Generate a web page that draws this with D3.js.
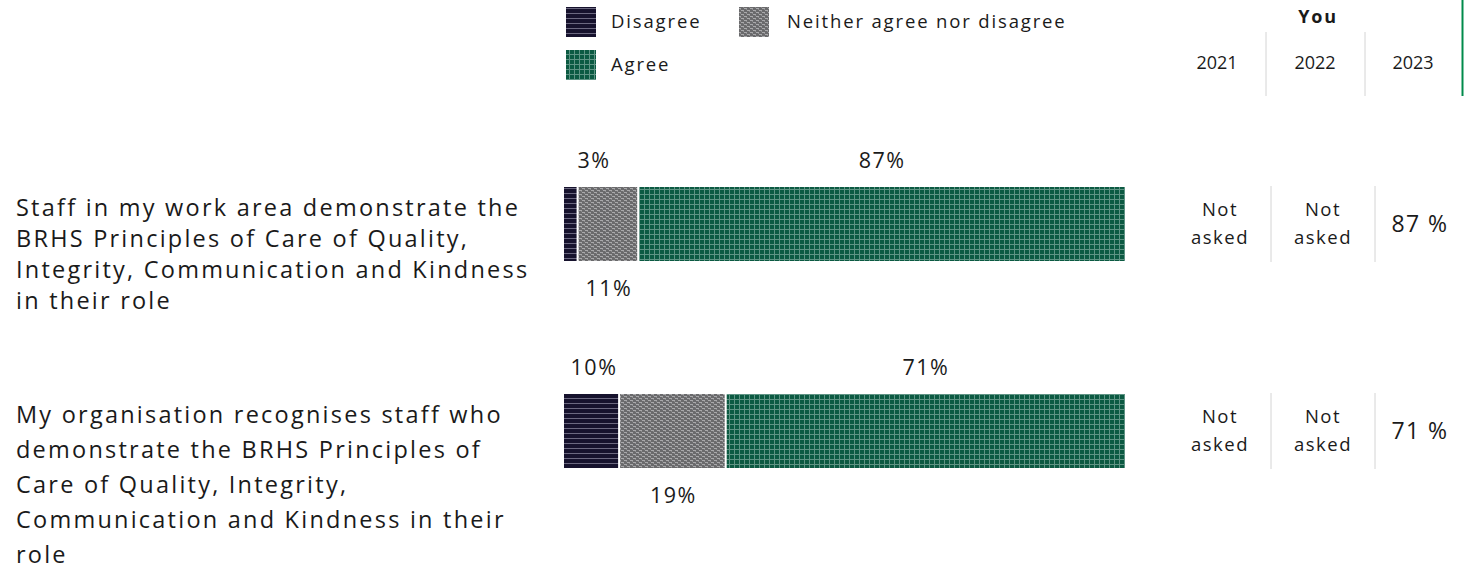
<!DOCTYPE html>
<html>
<head>
<meta charset="utf-8">
<script src="https://cdn.jsdelivr.net/npm/d3@7"></script>
<style>
  html, body { margin: 0; padding: 0; background: #fff; }
  svg { display: block; font-family: "Open Sans", sans-serif; }
</style>
</head>
<body>
<svg id="chart" width="1466" height="571"></svg>
<script>
// ---- data ----
const questions = [
  "Staff in my work area demonstrate the BRHS Principles of Care of Quality, Integrity, Communication and Kindness in their role",
  "My organisation recognises staff who demonstrate the BRHS Principles of Care of Quality, Integrity, Communication and Kindness in their role"
];
const questionLines = [
  ["Staff in my work area demonstrate the", "BRHS Principles of Care of Quality,", "Integrity, Communication and Kindness", "in their role"],
  ["My organisation recognises staff who", "demonstrate the BRHS Principles of", "Care of Quality, Integrity,", "Communication and Kindness in their", "role"]
];
const seriesNames = ["Disagree", "Neither agree nor disagree", "Agree"];
const disagree = [2.6, 10];
const neither = [10.8, 19];
const agree = [86.6, 71];
const years = ["2021", "2022", "2023"];
const history2021 = ["Not asked", "Not asked"];
const history2022 = ["Not asked", "Not asked"];
const history2023 = ["87 %", "71 %"];

// ---- setup ----
const svg = d3.select("#chart");
const defs = svg.append("defs");
const lineStep = [31, 35];  // label line spacing per row

// patterns
const pDis = defs.append("pattern").attr("id", "pDis").attr("patternUnits", "userSpaceOnUse").attr("width", 5).attr("height", 5);
pDis.append("rect").attr("width", 5).attr("height", 5).attr("fill", "#16122d");
pDis.append("rect").attr("y", 3).attr("width", 5).attr("height", 1).attr("fill", "#6b6880");

const pNei = defs.append("pattern").attr("id", "pNei").attr("patternUnits", "userSpaceOnUse").attr("width", 6).attr("height", 4);
pNei.append("rect").attr("width", 6).attr("height", 4).attr("fill", "#6a6a6c");
pNei.append("rect").attr("x", 0).attr("y", 0).attr("width", 3).attr("height", 1).attr("fill", "#a9a9ab");
pNei.append("rect").attr("x", 3).attr("y", 2).attr("width", 3).attr("height", 1).attr("fill", "#a9a9ab");
pNei.append("rect").attr("x", 2).attr("y", 1).attr("width", 1).attr("height", 1).attr("fill", "#8a8a8c");
pNei.append("rect").attr("x", 5).attr("y", 3).attr("width", 1).attr("height", 1).attr("fill", "#8a8a8c");

const pAgr = defs.append("pattern").attr("id", "pAgr").attr("patternUnits", "userSpaceOnUse").attr("width", 5).attr("height", 5);
pAgr.append("rect").attr("width", 5).attr("height", 5).attr("fill", "#0c5a42");
pAgr.append("rect").attr("x", 4).attr("width", 1).attr("height", 5).attr("fill", "#5f9484");
pAgr.append("rect").attr("y", 4).attr("width", 5).attr("height", 1).attr("fill", "#5f9484");

const fills = ["url(#pDis)", "url(#pNei)", "url(#pAgr)"];

// scales
const x = d3.scaleLinear().domain([0, 100]).range([564, 1125]);
const y = d3.scaleBand().domain(questions).range([187, 468]).paddingInner(133 / 207).paddingOuter(0);

const textColor = "#1a1a1a";

// ---- legend ----
const legendItems = [
  { name: seriesNames[0], fill: fills[0], sx: 566, sy: 7, tx: 611 },
  { name: seriesNames[1], fill: fills[1], sx: 739, sy: 7, tx: 787 },
  { name: seriesNames[2], fill: fills[2], sx: 566, sy: 50, tx: 611 }
];
const lg = svg.append("g");
lg.selectAll("rect").data(legendItems).join("rect")
  .attr("x", d => d.sx).attr("y", d => d.sy).attr("width", 30).attr("height", 30)
  .attr("fill", d => d.fill);
lg.selectAll("text").data(legendItems).join("text")
  .attr("x", d => d.tx).attr("y", d => d.sy + 15).attr("dy", "0.35em")
  .attr("font-size", 18.5).attr("letter-spacing", "0.1em").attr("fill", textColor).text(d => d.name);

// ---- header table ----
const colX = d3.scalePoint().domain(years).range([1217, 1413]);
svg.append("text").attr("x", colX("2022") + 3).attr("y", 17).attr("dy", "0.35em")
  .attr("text-anchor", "middle").attr("font-size", 18).attr("letter-spacing", "0.1em")
  .attr("font-weight", "bold").attr("fill", textColor).text("You");
svg.selectAll(".yr").data(years).join("text").attr("class", "yr")
  .attr("x", d => colX(d)).attr("y", 63).attr("dy", "0.35em")
  .attr("text-anchor", "middle").attr("font-size", 18).attr("fill", textColor).text(d => d);
svg.selectAll(".hdiv").data([1266, 1365]).join("line").attr("class", "hdiv")
  .attr("x1", d => d).attr("x2", d => d).attr("y1", 32).attr("y2", 96)
  .attr("stroke", "#d4d4d4").attr("stroke-width", 1);
svg.append("line").attr("x1", 1462.5).attr("x2", 1462.5).attr("y1", 0).attr("y2", 96)
  .attr("stroke", "#008a4b").attr("stroke-width", 2);

// ---- bars ----
const rows = questions.map((q, i) => {
  const vals = [disagree[i], neither[i], agree[i]];
  let acc = 0;
  const segs = vals.map((v, k) => {
    const s = { q, k, v, x0: acc, x1: acc + v };
    acc += v;
    return s;
  });
  return { q, i, segs };
});

const rowG = svg.selectAll(".row").data(rows).join("g").attr("class", "row");

rowG.selectAll("rect.seg").data(d => d.segs).join("rect").attr("class", "seg")
  .attr("x", d => x(d.x0))
  .attr("y", d => y(d.q))
  .attr("width", d => Math.max(0, x(d.x1) - x(d.x0) - (d.k < 2 ? 2 : 0)))
  .attr("height", y.bandwidth())
  .attr("fill", d => fills[d.k]);

// value labels: disagree & agree above, neither below
rowG.selectAll("text.val").data(d => d.segs).join("text").attr("class", "val")
  .attr("x", d => {
    const c = (x(d.x0) + x(d.x1)) / 2;
    return d.k === 0 ? Math.max(c, x(0) + 30) : c;
  })
  .attr("y", d => d.k === 1 ? y(d.q) + y.bandwidth() + 27 : y(d.q) - 27)
  .attr("dy", "0.35em")
  .attr("text-anchor", "middle")
  .attr("font-size", 21.5).attr("letter-spacing", "0.07em").attr("fill", textColor)
  .text(d => Math.round(d.v) + "%");

// question labels
rowG.append("text")
  .attr("font-size", 23.5).attr("letter-spacing", "0.095em").attr("fill", textColor)
  .selectAll("tspan").data(d => questionLines[d.i].map((l, j) => ({ l, j, i: d.i, q: d.q }))).join("tspan")
  .attr("x", 16)
  .attr("y", d => y(d.q) + 21 + d.j * lineStep[d.i])
  .attr("dy", "0.35em")
  .text(d => d.l);

// history table cells
const cellX = [1220, 1323, 1420];
rowG.selectAll("line.rdiv").data(d => [1271, 1375].map(v => ({ v, q: d.q }))).join("line").attr("class", "rdiv")
  .attr("x1", d => d.v).attr("x2", d => d.v)
  .attr("y1", d => y(d.q) - 1).attr("y2", d => y(d.q) + y.bandwidth() + 1)
  .attr("stroke", "#d4d4d4").attr("stroke-width", 1);

rowG.each(function (d) {
  const g = d3.select(this);
  const cells = [history2021[d.i], history2022[d.i], history2023[d.i]];
  const cy = y(d.q) + y.bandwidth() / 2;
  cells.forEach((c, k) => {
    if (c === "Not asked") {
      const t = g.append("text").attr("text-anchor", "middle").attr("font-size", 18.5)
        .attr("letter-spacing", "0.08em").attr("fill", textColor);
      t.append("tspan").attr("x", cellX[k]).attr("y", cy - 14).attr("dy", "0.35em").text("Not");
      t.append("tspan").attr("x", cellX[k]).attr("y", cy + 14).attr("dy", "0.35em").text("asked");
    } else {
      g.append("text").attr("x", cellX[k]).attr("y", cy).attr("dy", "0.35em")
        .attr("text-anchor", "middle").attr("font-size", 23).attr("letter-spacing", "0.06em")
        .attr("fill", textColor).text(c);
    }
  });
});
</script>
</body>
</html>
